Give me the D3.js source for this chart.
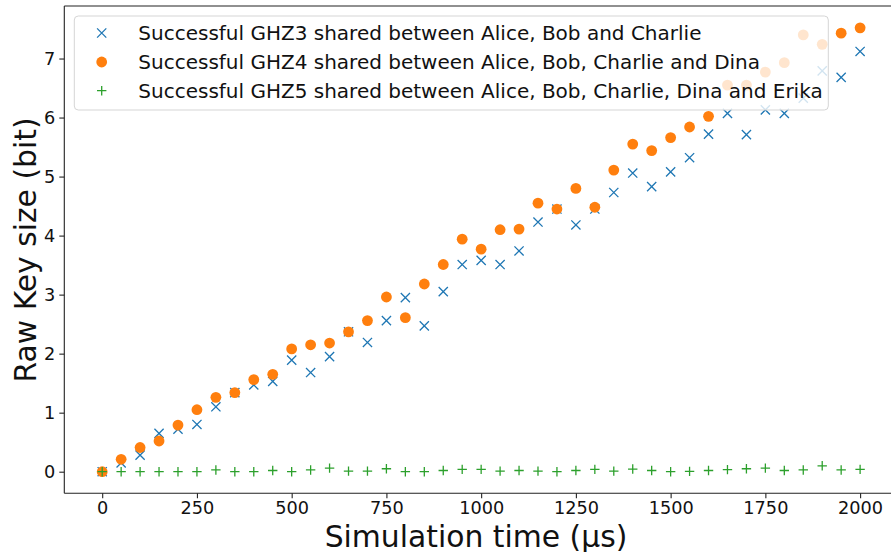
<!DOCTYPE html>
<html>
<head>
<meta charset="utf-8">
<script src="https://cdn.jsdelivr.net/npm/d3@7"></script>
<style>
  html, body { margin: 0; padding: 0; background: #fff; }
  svg { display: block; font-family: "DejaVu Sans", sans-serif; }
</style>
</head>
<body>
<svg id="chart" width="891" height="552"></svg>
<script>
// ---- data ----
const times = d3.range(0, 2001, 50); // 0, 50, ..., 2000 µs
const ghz3 = [0, 0.15, 0.28, 0.65, 0.72, 0.80, 1.10, 1.34, 1.47, 1.53,
  1.89, 1.68, 1.95, 2.37, 2.19, 2.56, 2.95, 2.47, 3.05, 3.51,
  3.58, 3.51, 3.74, 4.23, 4.45, 4.18, 4.45, 4.73, 5.06, 4.83,
  5.08, 5.32, 5.72, 6.07, 5.71, 6.13, 6.07, 6.33, 6.79, 6.68, 7.12];
const ghz4 = [0, 0.21, 0.41, 0.52, 0.79, 1.05, 1.26, 1.34, 1.56, 1.65,
  2.08, 2.15, 2.18, 2.37, 2.56, 2.96, 2.61, 3.18, 3.51, 3.94,
  3.77, 4.10, 4.11, 4.55, 4.45, 4.80, 4.48, 5.11, 5.55, 5.44,
  5.66, 5.84, 6.02, 6.55, 6.55, 6.77, 6.93, 7.40, 7.24, 7.43, 7.52];
const ghz5 = [0, 0, 0, 0, 0, 0, 0.03, 0, 0, 0.02,
  0, 0.03, 0.06, 0.01, 0.01, 0.05, 0, 0, 0.02, 0.04,
  0.04, 0.01, 0.02, 0.01, 0, 0.02, 0.04, 0.01, 0.045, 0.02,
  0, 0.005, 0.02, 0.035, 0.05, 0.06, 0.02, 0.03, 0.1, 0.03, 0.04];
const xTicks = [0, 250, 500, 750, 1000, 1250, 1500, 1750, 2000];
const yTicks = [0, 1, 2, 3, 4, 5, 6, 7];
const legendLabels = [
  "Successful GHZ3 shared between Alice, Bob and Charlie",
  "Successful GHZ4 shared between Alice, Bob, Charlie and Dina",
  "Successful GHZ5 shared between Alice, Bob, Charlie, Dina and Erika"
];
const xLabel = "Simulation time (μs)";
const yLabel = "Raw Key size (bit)";

// ---- layout ----
const C = { blue: "#1f77b4", orange: "#ff7f0e", green: "#2ca02c" };
const L = 64.3, R = 898, T = 6, B = 493.3;
const svg = d3.select("#chart");

const x = d3.scaleLinear().domain([-100, 2100]).range([L, R]);
const y = d3.scaleLinear().domain([-0.366, 7.89]).range([B, T]);

const clipId = "plotclip";
svg.append("defs").append("clipPath").attr("id", clipId)
  .append("rect").attr("x", L).attr("y", T).attr("width", R - L).attr("height", B - T);

// axes
const fs = 17.7;
const xAxis = svg.append("g").attr("transform", `translate(0,${B})`)
  .call(d3.axisBottom(x).tickValues(xTicks).tickSize(5).tickPadding(3.5).tickFormat(d3.format("d")));
const yAxis = svg.append("g").attr("transform", `translate(${L},0)`)
  .call(d3.axisLeft(y).tickValues(yTicks).tickSize(5).tickPadding(4).tickFormat(d3.format("d")));
[xAxis, yAxis].forEach(g => {
  g.select(".domain").remove();
  g.selectAll(".tick line").attr("stroke", "#222").attr("stroke-width", 1.1);
  g.selectAll(".tick text").attr("fill", "#111").style("font-size", fs + "px")
    .style("font-family", "DejaVu Sans, sans-serif");
});

// series
const plot = svg.append("g").attr("clip-path", `url(#${clipId})`);
const s3 = 4.6, s5 = 4.7, r4 = 5.4;
function xMark(g, px, py, color) {
  g.append("path")
    .attr("d", `M${px - s3},${py - s3}L${px + s3},${py + s3}M${px - s3},${py + s3}L${px + s3},${py - s3}`)
    .attr("stroke", color).attr("stroke-width", 1.3).attr("fill", "none");
}
function plusMark(g, px, py, color) {
  g.append("path")
    .attr("d", `M${px - s5},${py}L${px + s5},${py}M${px},${py - s5}L${px},${py + s5}`)
    .attr("stroke", color).attr("stroke-width", 1.3).attr("fill", "none");
}
const g3 = plot.append("g");
times.forEach((t, i) => xMark(g3, x(t), y(ghz3[i]), C.blue));
plot.append("g").selectAll("circle").data(times).join("circle")
  .attr("cx", d => x(d)).attr("cy", (d, i) => y(ghz4[i])).attr("r", r4).attr("fill", C.orange);
const g5 = plot.append("g");
times.forEach((t, i) => plusMark(g5, x(t), y(ghz5[i]), C.green));

// spines
const sp = svg.append("g").attr("stroke", "#222").attr("stroke-width", 1.1).attr("fill", "none");
sp.append("line").attr("x1", L).attr("x2", L).attr("y1", T).attr("y2", B);
sp.append("line").attr("x1", L).attr("x2", 891).attr("y1", B).attr("y2", B);
sp.append("line").attr("x1", L).attr("x2", 891).attr("y1", T).attr("y2", T);

// legend
const lfs = 20;
const leg = svg.append("g");
leg.append("rect").attr("x", 74.3).attr("y", 16).attr("width", 754).attr("height", 94)
  .attr("rx", 4).attr("ry", 4)
  .attr("fill", "#fff").attr("fill-opacity", 0.8).attr("stroke", "#d5d5d5").attr("stroke-width", 1);
const rowsY = [33, 62, 90.7];
const mx = 101.7;
xMark(leg, mx, rowsY[0], C.blue);
leg.append("circle").attr("cx", mx).attr("cy", rowsY[1]).attr("r", r4).attr("fill", C.orange);
plusMark(leg, mx, rowsY[2], C.green);
legendLabels.forEach((t, i) => {
  leg.append("text").attr("x", 138.3).attr("y", rowsY[i]).attr("dy", "0.36em")
    .style("font-size", lfs + "px").attr("fill", "#111").text(t);
});

// axis labels
svg.append("text").attr("x", 476).attr("y", 546.5).attr("text-anchor", "middle")
  .style("font-size", "29.8px").attr("fill", "#111").text(xLabel);
svg.append("text").attr("transform", "translate(36,250) rotate(-90)").attr("text-anchor", "middle")
  .style("font-size", "29.8px").attr("fill", "#111").text(yLabel);
</script>
</body>
</html>
